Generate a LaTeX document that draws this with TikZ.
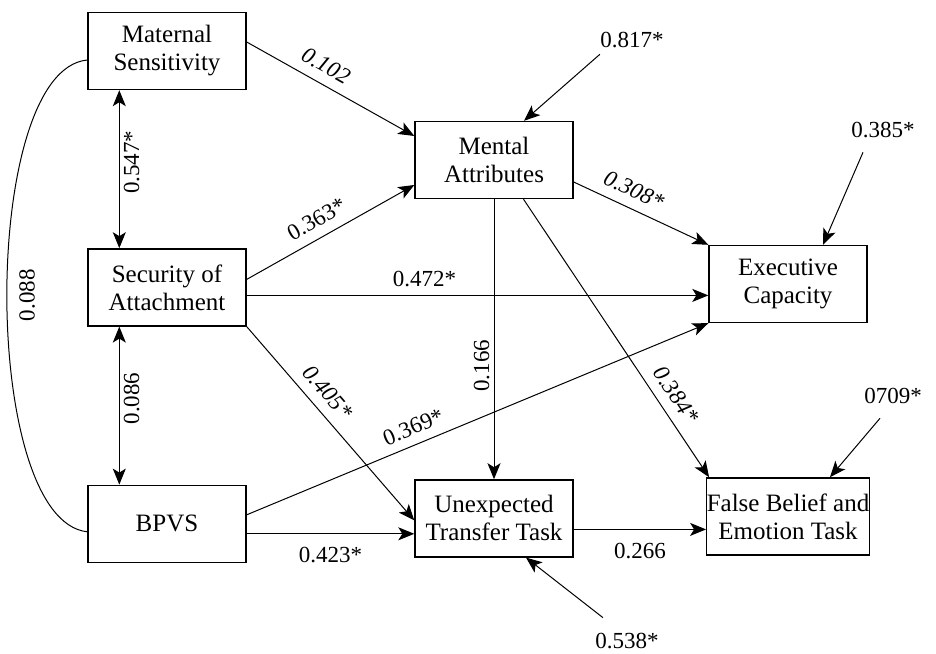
\documentclass[tikz,border=0pt]{standalone}
\usepackage{fontspec}
\setmainfont{Liberation Serif}
\usetikzlibrary{positioning}
\usetikzlibrary{arrows.meta,calc}

\begin{document}
\begin{tikzpicture}[x=0.5pt,y=-0.5pt,
    >={Stealth[length=8pt,width=6.5pt,inset=2pt]},
    basic/.style={draw,line width=0.7pt,minimum width=79pt,minimum height=38.5pt,inner xsep=0pt,align=center,font=\fontsize{12.5}{14}\selectfont},
    coef/.style={font=\fontsize{11.5}{13}\selectfont,inner sep=2pt},
    icoef/.style={coef,font=\fontsize{11.5}{13}\selectfont\itshape},
    resid/.style={coef,inner sep=0pt},
    every path/.style={line width=0.5pt},
]
\useasboundingbox (0,0) rectangle (936,653);
        \node[basic] (ms) at (167,51) {Maternal\\Sensitivity};
        \node[basic,below=79pt of ms] (sa) {Security of\\Attachment};
        \node[basic,below=79pt of sa] (bp) {BPVS};
        \node[basic] (ma) at (494,160) {Mental\\Attributes};
        \node[basic,below=140pt of ma] (utt) {Unexpected\\Transfer Task};
        \node[basic] (ec) at (788,284) {Executive\\Capacity};
        \node[basic,below=77pt of ec] (fb) {False Belief and\\Emotion Task};
% residuals
        \node[resid] (e1) at (632,40) {0.817*};
        \node[resid] (e2) at (883,130) {0.385*};
        \node[resid] (e3) at (893,396) {0709*};
        \node[resid] (e4) at (627,641) {0.538*};
            \path[draw,->] ([yshift=-3pt]e1.south west) -- ([xshift=15pt]ma.north);
            \path[draw,->] ([xshift=-10pt,yshift=-7pt]e2.south) -- ([xshift=17.5pt]ec.north);
            \path[draw,->] ([xshift=-6.5pt,yshift=-7pt]e3.south) -- ([xshift=21pt]fb.north);
            \path[draw,->] ([xshift=-12pt,yshift=7.5pt]e4.north) -- ([xshift=16pt]utt.south);
% correlations
            \path[draw,<->] ([xshift=16pt]ms.south west) -- node[coef,midway,rotate=90,anchor=north,xshift=3.5pt]{0.547*} ([xshift=16pt]sa.north west);
            \path[draw,<->] ([xshift=16pt]sa.south west) -- node[coef,midway,rotate=90,anchor=north,xshift=3.5pt]{0.086} ([xshift=16pt]bp.north west);
            \draw ([yshift=-4.5pt]ms.west) .. controls (-20,70) and (-20,520) .. node[coef,pos=0.5,rotate=90,anchor=north,inner sep=6pt]{0.088} ([yshift=-4pt]bp.west);
% paths
            \path[draw,->] ([yshift=4.5pt]ms.east) -- node[icoef,sloped,above,pos=0.42,inner sep=5pt]{0.102} ([yshift=12pt]ma.west);
            \path[draw,->] ([yshift=4pt]sa.east) -- node[coef,sloped,above,pos=0.47,inner sep=5pt]{0.363*} ([yshift=-12.5pt]ma.west);
            \path[draw,->] ([yshift=-4pt]sa.east) -- node[coef,above,pos=0.385,inner sep=4pt]{0.472*} ([yshift=-4pt]sa.east -| ec.west);
            \path[draw,->] (sa.south east) -- node[icoef,sloped,above,pos=0.4,inner sep=5pt]{0.405*} ([yshift=-1pt]utt.west);
            \path[draw,->] ([yshift=4.5pt]bp.east) -- node[coef,sloped,above,pos=0.375,inner sep=4.5pt]{0.369*} (ec.south west);
            \path[draw,->] ([yshift=-5pt]bp.east) -- node[coef,below,midway,inner sep=6.5pt]{0.423*} ([yshift=-5pt]bp.east -| utt.west);
            \path[draw,->] (ma.south) -- node[coef,pos=0.57,rotate=90,anchor=south,xshift=-3.5pt]{0.166} (ma.south |- utt.north);
            \path[draw,->] ([xshift=14.75pt]ma.south) -- node[icoef,sloped,above,pos=0.74,inner sep=5pt]{0.384*} ([xshift=1.5pt]fb.north west);
            \path[draw,->] ([yshift=-11pt]ma.east) -- node[icoef,sloped,above,pos=0.39,inner sep=5pt]{0.308*} (ec.north west);
            \path[draw,->] ([yshift=-5.5pt]utt.east) -- node[coef,below,midway,inner sep=6.5pt]{0.266} ([yshift=-5.5pt]utt.east -| fb.west);
    \end{tikzpicture}
\end{document}
